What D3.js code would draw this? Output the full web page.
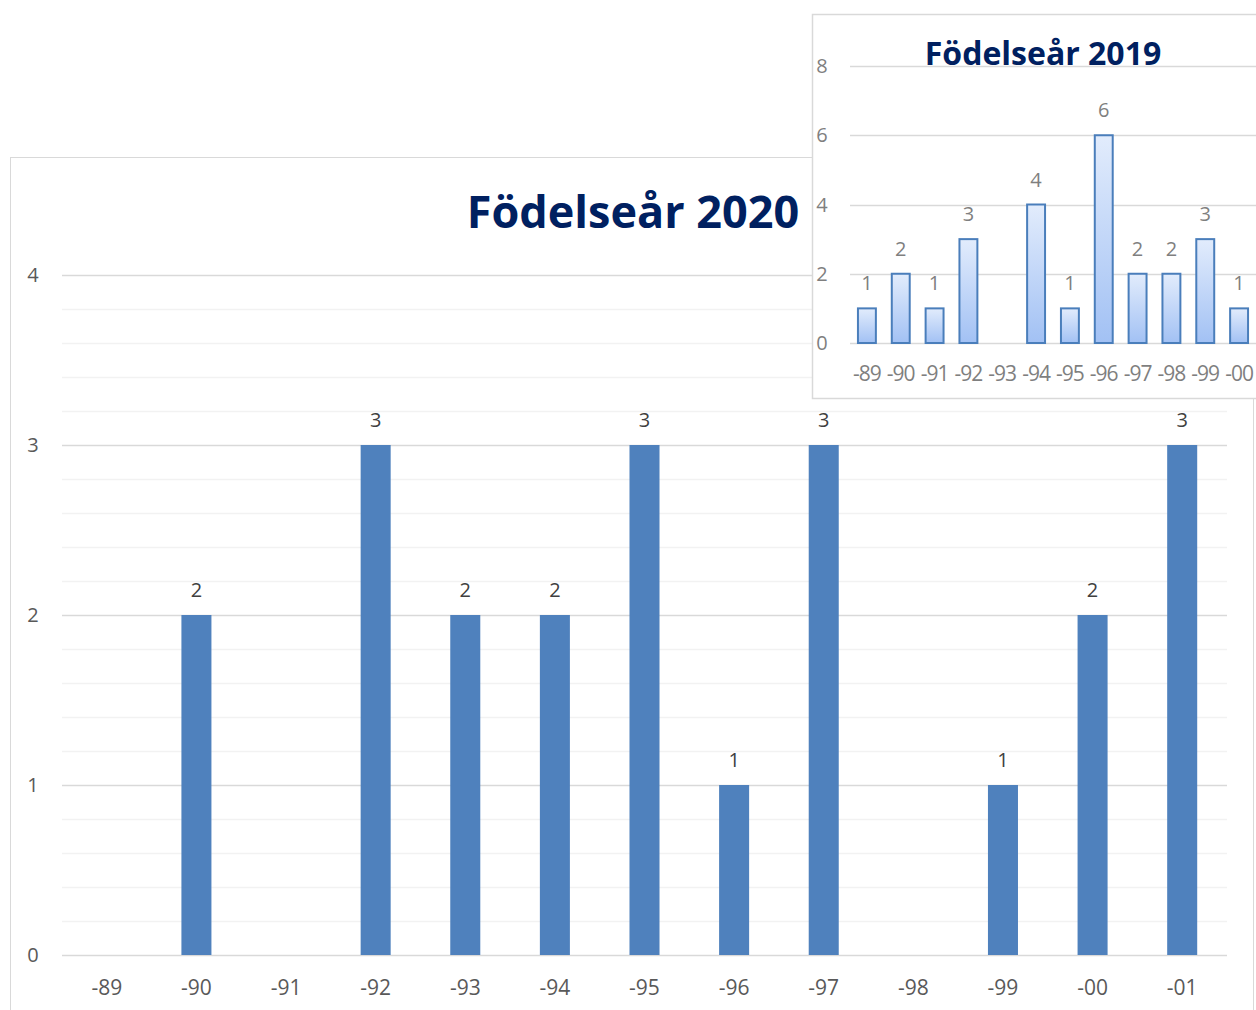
<!DOCTYPE html>
<html>
<head>
<meta charset="utf-8">
<script src="https://cdn.jsdelivr.net/npm/d3@7"></script>
<style>
  body { margin: 0; background: #fff; }
  text { font-family: "Open Sans", sans-serif; }
</style>
</head>
<body>
<svg id="chart" width="1256" height="1010"></svg>
<script>
// Födelseår 2020 (main) and Födelseår 2019 (inset)
const YEARS_2020 = ["-89", "-90", "-91", "-92", "-93", "-94", "-95", "-96", "-97", "-98", "-99", "-00", "-01"];
const COUNTS_2020 = [0, 2, 0, 3, 2, 2, 3, 1, 3, 0, 1, 2, 3];
const YEARS_2019 = ["-89", "-90", "-91", "-92", "-93", "-94", "-95", "-96", "-97", "-98", "-99", "-00"];
const COUNTS_2019 = [1, 2, 1, 3, 0, 4, 1, 6, 2, 2, 3, 1];
const Y_TICKS_2020 = [0, 1, 2, 3, 4];
const Y_TICKS_2019 = [0, 2, 4, 6, 8];

const svg = d3.select("#chart");

// ---------- main chart ----------
const main = svg.append("g");
main.append("rect")
  .attr("x", 10.5).attr("y", 157.5).attr("width", 1243).attr("height", 870)
  .attr("fill", "#fff").attr("stroke", "#d9d9d9");

const m = { left: 62, right: 1227, top: 275, bottom: 955 };
const x = d3.scaleBand().domain(YEARS_2020).range([m.left, m.right]).paddingInner(0.665).paddingOuter(0.3325);
const y = d3.scaleLinear().domain([0, 4]).range([m.bottom, m.top]);

// minor gridlines every 0.2
main.append("g").selectAll("line")
  .data(d3.range(0, 4.01, 0.2).filter((v) => Math.abs(v - Math.round(v)) > 1e-6))
  .join("line")
  .attr("x1", m.left).attr("x2", m.right)
  .attr("y1", (d) => Math.round(y(d)) + 0.5).attr("y2", (d) => Math.round(y(d)) + 0.5)
  .attr("stroke", "#f2f2f2").attr("stroke-width", 1.5);

main.append("g").selectAll("line")
  .data(Y_TICKS_2020)
  .join("line")
  .attr("x1", m.left).attr("x2", m.right)
  .attr("y1", (d) => Math.round(y(d)) + 0.5).attr("y2", (d) => Math.round(y(d)) + 0.5)
  .attr("stroke", "#d9d9d9").attr("stroke-width", 1.5);

main.append("g").selectAll("text")
  .data(Y_TICKS_2020)
  .join("text")
  .attr("x", 33).attr("y", (d) => y(d) + 7)
  .attr("text-anchor", "middle").attr("font-size", 20).attr("fill", "#595959")
  .text((d) => d);

const data2020 = YEARS_2020.map((k, i) => ({ k, v: COUNTS_2020[i] }));
main.append("g").selectAll("rect")
  .data(data2020.filter((d) => d.v > 0))
  .join("rect")
  .attr("x", (d) => x(d.k)).attr("width", x.bandwidth())
  .attr("y", (d) => y(d.v)).attr("height", (d) => y(0) - y(d.v))
  .attr("fill", "#4f81bd");

main.append("g").selectAll("text")
  .data(data2020.filter((d) => d.v > 0))
  .join("text")
  .attr("x", (d) => x(d.k) + x.bandwidth() / 2).attr("y", (d) => y(d.v) - 18)
  .attr("text-anchor", "middle").attr("font-size", 20).attr("fill", "#404040")
  .text((d) => d.v);

main.append("g").selectAll("text")
  .data(YEARS_2020)
  .join("text")
  .attr("x", (d) => x(d) + x.bandwidth() / 2).attr("y", 995)
  .attr("text-anchor", "middle").attr("font-size", 21).attr("fill", "#595959")
  .text((d) => d);

main.append("text")
  .attr("x", 633).attr("y", 228)
  .attr("text-anchor", "middle").attr("font-size", 45).attr("font-weight", "bold")
  .attr("fill", "#002060")
  .text("Födelseår 2020");

// ---------- inset chart ----------
const inset = svg.append("g");
const defs = svg.append("defs");
const grad = defs.append("linearGradient").attr("id", "barGrad")
  .attr("x1", 0).attr("y1", 0).attr("x2", 0).attr("y2", 1);
grad.append("stop").attr("offset", "0%").attr("stop-color", "#e2ecfc");
grad.append("stop").attr("offset", "100%").attr("stop-color", "#a2c1f4");

inset.append("rect")
  .attr("x", 812.5).attr("y", 14.5).attr("width", 470).attr("height", 384)
  .attr("fill", "#fff").attr("stroke", "#d9d9d9").attr("stroke-width", 1.5);

const im = { left: 850, right: 1256, top: 66, bottom: 343 };
const ix = d3.scaleBand().domain(YEARS_2019).range([im.left, im.right]).paddingInner(0.47).paddingOuter(0.235);
const iy = d3.scaleLinear().domain([0, 8]).range([im.bottom, im.top]);

inset.append("g").selectAll("line")
  .data(Y_TICKS_2019)
  .join("line")
  .attr("x1", im.left).attr("x2", 1290)
  .attr("y1", (d) => Math.round(iy(d)) + 0.5).attr("y2", (d) => Math.round(iy(d)) + 0.5)
  .attr("stroke", "#d9d9d9").attr("stroke-width", 1.5);

inset.append("g").selectAll("text")
  .data(Y_TICKS_2019)
  .join("text")
  .attr("x", 822).attr("y", (d) => iy(d) + 7)
  .attr("text-anchor", "middle").attr("font-size", 20).attr("fill", "#7f7f7f")
  .text((d) => d);

const data2019 = YEARS_2019.map((k, i) => ({ k, v: COUNTS_2019[i] }));
inset.append("g").selectAll("rect")
  .data(data2019.filter((d) => d.v > 0))
  .join("rect")
  .attr("x", (d) => ix(d.k)).attr("width", ix.bandwidth())
  .attr("y", (d) => iy(d.v)).attr("height", (d) => iy(0) - iy(d.v))
  .attr("fill", "url(#barGrad)").attr("stroke", "#4a7ebb").attr("stroke-width", 2);

inset.append("g").selectAll("text")
  .data(data2019.filter((d) => d.v > 0))
  .join("text")
  .attr("x", (d) => ix(d.k) + ix.bandwidth() / 2).attr("y", (d) => iy(d.v) - 18)
  .attr("text-anchor", "middle").attr("font-size", 20).attr("fill", "#7f7f7f")
  .text((d) => d.v);

inset.append("g").selectAll("text")
  .data(YEARS_2019)
  .join("text")
  .attr("x", (d) => ix(d) + ix.bandwidth() / 2).attr("y", 381)
  .attr("text-anchor", "middle").attr("font-size", 21).attr("fill", "#7f7f7f")
  .attr("letter-spacing", -1)
  .text((d) => d);

inset.append("text")
  .attr("x", 1043).attr("y", 65)
  .attr("text-anchor", "middle").attr("font-size", 32).attr("font-weight", "bold")
  .attr("fill", "#002060")
  .text("Födelseår 2019");
</script>
</body>
</html>
